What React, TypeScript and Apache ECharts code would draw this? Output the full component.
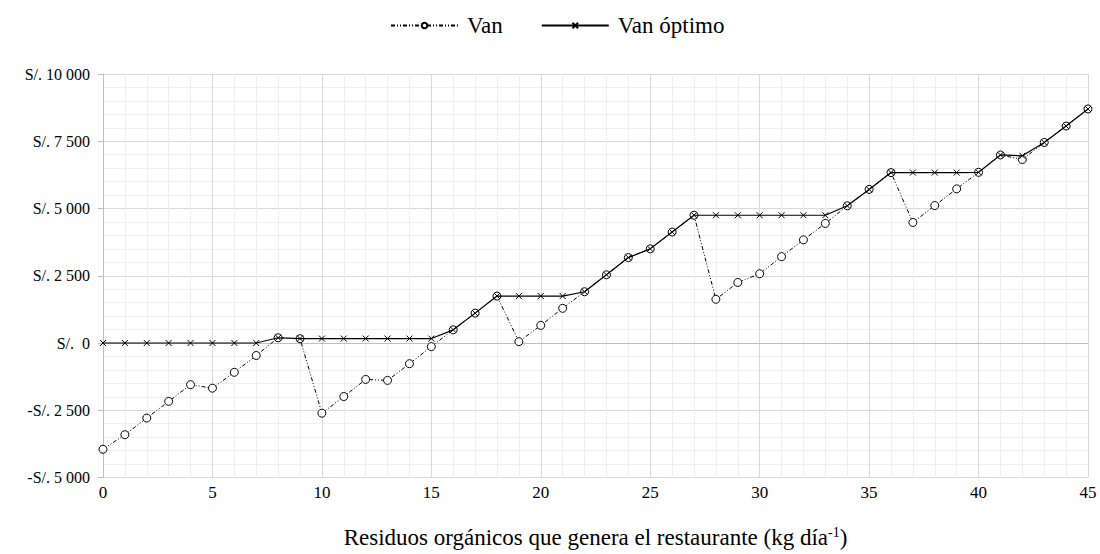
import React, { useEffect, useRef } from "react";
import * as echarts from "echarts";

const xValues: number[] = Array.from({ length: 46 }, (_, i) => i);

const vanValues: number[] = [
  -3950, -3410, -2790, -2170, -1550, -1680, -1090, -465, 195, 160,
  -2610, -1990, -1355, -1390, -770, -135, 490, 1110, 1745, 50,
  655, 1290, 1905, 2535, 3175, 3500, 4125, 4750, 1625, 2250,
  2575, 3210, 3835, 4445, 5100, 5710, 6335, 4480, 5110, 5730,
  6345, 6990, 6820, 7455, 8065, 8700,
];

const vanOptimoValues: number[] = [
  0, 0, 0, 0, 0, 0, 0, 0, 195, 165,
  165, 165, 165, 165, 165, 165, 490, 1110, 1745, 1745,
  1745, 1745, 1905, 2535, 3175, 3500, 4125, 4750, 4750, 4750,
  4750, 4750, 4750, 4750, 5100, 5710, 6335, 6335, 6335, 6335,
  6345, 6990, 6960, 7455, 8065, 8700,
];

const seriesNames: string[] = ["Van", "Van óptimo"];
const yTicks = { min: -5000, max: 10000, interval: 2500 };
const xTicks = { min: 0, max: 45, interval: 5 };

const FONT = "'Liberation Serif', 'Times New Roman', serif";

function fmtThousands(n: number): string {
  return String(n).replace(/\B(?=(\d{3})+(?!\d))/g, " ");
}

function yLabel(v: number): string {
  if (v === 0) return "S/.  0";
  if (v < 0) return "-S/. " + fmtThousands(-v);
  return "S/. " + fmtThousands(v);
}

export default function App() {
  const ref = useRef<HTMLDivElement>(null);

  useEffect(() => {
    if (!ref.current) return;
    const chart = echarts.init(ref.current, undefined, { renderer: "svg" });
    const crossPath = "path://M0,0L10,10M10,0L0,10";
    chart.setOption({
      animation: false,
      backgroundColor: "#ffffff",
      textStyle: { fontFamily: FONT, color: "#000" },
      legend: {
        top: 9,
        left: 385,
        itemWidth: 67,
        itemHeight: 7,
        itemGap: 38,
        textStyle: { fontFamily: FONT, fontSize: 23, color: "#000", padding: [0, 0, 0, 4] },
        data: seriesNames,
      },
      grid: { left: 103, right: 12, top: 74, bottom: 70, containLabel: false },
      xAxis: {
        type: "value",
        min: xTicks.min,
        max: xTicks.max,
        interval: xTicks.interval,
        name: "Residuos orgánicos que genera el restaurante (kg día{sup|-1})",
        nameLocation: "middle",
        nameGap: 48,
        nameTextStyle: {
          fontFamily: FONT,
          fontSize: 23,
          color: "#000",
          rich: {
            sup: { fontFamily: FONT, fontSize: 14, verticalAlign: "top", padding: [0, 0, 10, 0], color: "#000" },
          },
        },
        axisLine: { show: true, lineStyle: { color: "#bfbfbf", width: 1 } },
        axisTick: { show: false },
        axisLabel: { fontFamily: FONT, fontSize: 17, color: "#000", margin: 6 },
        splitLine: { show: true, lineStyle: { color: "#d9d9d9", width: 1 } },
        minorTick: { show: false, splitNumber: 5 },
        minorSplitLine: { show: true, lineStyle: { color: "#efefef", width: 1 } },
      },
      yAxis: {
        type: "value",
        min: yTicks.min,
        max: yTicks.max,
        interval: yTicks.interval,
        axisLine: { show: true, lineStyle: { color: "#bfbfbf", width: 1 } },
        axisTick: { show: true, length: 5, lineStyle: { color: "#bfbfbf" } },
        axisLabel: {
          fontFamily: FONT,
          fontSize: 16,
          color: "#000",
          margin: 13,
          formatter: (v: number) => yLabel(v),
        },
        splitLine: { show: true, lineStyle: { color: "#d9d9d9", width: 1 } },
        minorTick: { show: false, splitNumber: 5 },
        minorSplitLine: { show: true, lineStyle: { color: "#efefef", width: 1 } },
      },
      series: [
        {
          name: seriesNames[0],
          type: "line",
          data: xValues.map((x, i) => [x, vanValues[i]]),
          symbol: "circle",
          symbolSize: 8,
          showAllSymbol: true,
          itemStyle: { color: "#ffffff", borderColor: "#000", borderWidth: 1 },
          lineStyle: { color: "#000", width: 1, type: [4, 2, 1, 2, 1, 2] },
          z: 2,
        },
        {
          name: seriesNames[1],
          type: "line",
          data: xValues.map((x, i) => [x, vanOptimoValues[i]]),
          symbol: crossPath,
          symbolSize: 6,
          showAllSymbol: true,
          itemStyle: { color: "#000", borderColor: "#000", borderWidth: 1 },
          lineStyle: { color: "#000", width: 1.2, type: "solid" },
          z: 3,
        },
      ],
    });
    return () => chart.dispose();
  }, []);

  return (
    <div
      ref={ref}
      style={{ position: "absolute", left: 0, top: 0, width: 1100, height: 554 }}
    />
  );
}
